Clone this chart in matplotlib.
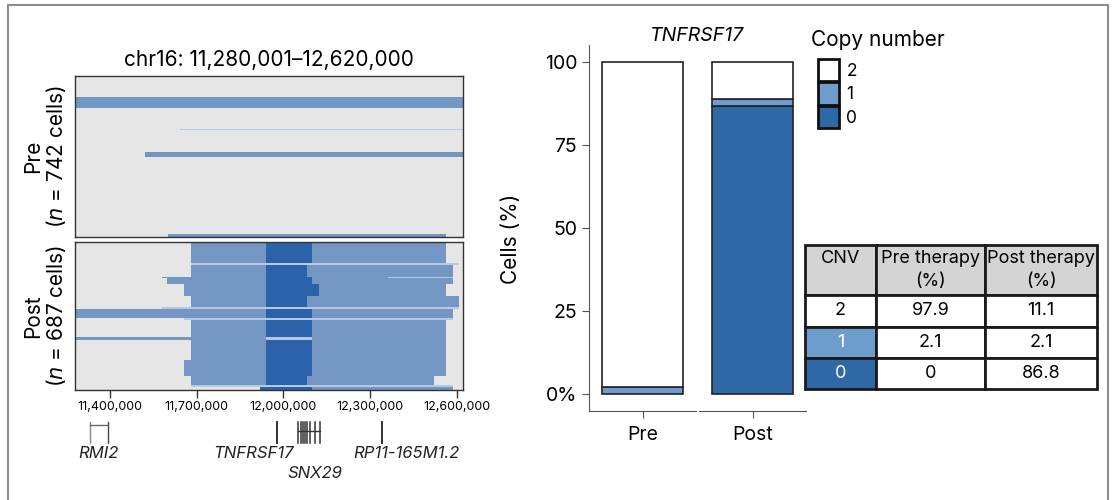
import matplotlib.pyplot as plt
from matplotlib.patches import Rectangle, Patch
from matplotlib.lines import Line2D

plt.rcParams['font.family'] = ['Inter', 'DejaVu Sans']

# genomic window shown in the heatmap
region_start = 11280001
region_end = 12620000
n_pre = 742
n_post = 687

# pre-therapy cells: (first cell, last cell, segment start, segment end, copy number)
pre_cell0 = [97, 245, 348, 728]
pre_cell1 = [148, 250, 373, 742]
pre_start = [11280001, 11642600, 11521800, 11601200]
pre_end = [12620000, 12620000, 12620000, 12561300]
pre_cn = [1, 'x', 1, 1]

# post-therapy cells, 'x' = very thin clusters drawn pale
post_cell0 = [0, 0, 0,
              6, 6, 6,
              96,
              106, 106, 106,
              163, 163, 163, 163,
              169, 169, 169,
              197, 197, 197,
              252, 252, 252,
              301,
              311, 311, 311,
              353,
              361, 361, 361,
              443, 443, 443,
              454, 454, 454,
              547, 547, 547,
              620, 620, 620,
              664,
              671, 671]
post_cell1 = [6, 6, 6,
              96, 96, 96,
              106,
              163, 163, 163,
              169, 169, 169, 169,
              197, 197, 197,
              252, 252, 252,
              301, 301, 301,
              311,
              353, 353, 353,
              361,
              443, 443, 443,
              454, 454, 454,
              547, 547, 547,
              620, 620, 620,
              664, 664, 664,
              671,
              687, 687]
post_start = [11563000, 11940000, 12143000,
              11680000, 11940000, 12100000,
              11680000,
              11680000, 11940000, 12080000,
              11580000, 11940000, 12100000, 12361000,
              11598000, 11940000, 12100000,
              11658000, 11940000, 12122000,
              11680000, 11940000, 12080000,
              11580000,
              11280001, 11940000, 12100000,
              11658000,
              11680000, 11940000, 12100000,
              11280001, 11940000, 12100000,
              11680000, 11940000, 12100000,
              11658000, 11940000, 12100000,
              11680000, 11940000, 12080000,
              11680000,
              11919000, 12100000]
post_end = [11940000, 12143000, 12561000,
            11940000, 12100000, 12561000,
            12606000,
            11940000, 12080000, 12584000,
            11940000, 12100000, 12361000, 12584000,
            11940000, 12100000, 12584000,
            11940000, 12122000, 12561000,
            11940000, 12080000, 12606000,
            12606000,
            11940000, 12100000, 12584000,
            12584000,
            11940000, 12100000, 12561000,
            11940000, 12100000, 12561000,
            11940000, 12100000, 12561000,
            11940000, 12100000, 12561000,
            11940000, 12080000, 12520000,
            12584000,
            12100000, 12584000]
post_cn = [1, 0, 1,
           1, 0, 1,
           'x',
           1, 0, 1,
           1, 0, 1, 'x',
           1, 0, 1,
           1, 0, 1,
           1, 0, 1,
           'x',
           1, 0, 1,
           'x',
           1, 0, 1,
           1, 'x', 1,
           1, 0, 1,
           1, 0, 1,
           1, 0, 1,
           'x',
           0, 1]

# gene annotation track
gene_names = ['RMI2', 'TNFRSF17', 'SNX29', 'RP11-165M1.2']
gene_start = [11331700, 11976500, 12051200, 12338600]
gene_end = [11393800, 11976500, 12126100, 12338600]
snx29_exons = [12051200, 12059500, 12066400, 12074300, 12080200,
               12091600, 12108900, 12126100]
axis_ticks = [11400000, 11700000, 12000000, 12300000, 12600000]

# copy-number fractions (%), in order CN 2, 1, 0
cn_levels = ['2', '1', '0']
pre_pct = [97.9, 2.1, 0]
post_pct = [11.1, 2.1, 86.8]

heat_colors = {0: '#2c62a9', 1: '#7396c2', 'x': '#b7c9e0'}
bar_colors = {'2': '#ffffff', '1': '#6d9ccd', '0': '#2f68a6'}
bg_grey = '#e6e6e6'

W, H = 1112, 500
fig = plt.figure(figsize=(W / 100, H / 100), dpi=100)


def px(x0, y0, x1, y1):
    return [x0 / W, 1 - y1 / H, (x1 - x0) / W, (y1 - y0) / H]


def draw_cells(ax, c0, c1, s, e, cn, n):
    ax.set_facecolor(bg_grey)
    for a, b, st, en, c in zip(c0, c1, s, e, cn):
        ax.add_patch(Rectangle((st, a), en - st, b - a, facecolor=heat_colors[c],
                               edgecolor='none', lw=0))
    ax.set_xlim(region_start, region_end)
    ax.set_ylim(n, 0)
    ax.set_yticks([])
    for sp in ax.spines.values():
        sp.set_linewidth(1.0)
        sp.set_color('#333333')


ax_pre = fig.add_axes(px(75, 76, 463, 237))
draw_cells(ax_pre, pre_cell0, pre_cell1, pre_start, pre_end, pre_cn, n_pre)
ax_pre.set_xticks([])
ax_pre.set_title('chr16: 11,280,001\u201312,620,000', fontsize=15, pad=7)
ax_pre.set_ylabel('Pre\n($\\it{n}$ = 742 cells)', fontsize=15, labelpad=5,
                  linespacing=1.05)

ax_post = fig.add_axes(px(75, 242, 463, 390))
draw_cells(ax_post, post_cell0, post_cell1, post_start, post_end, post_cn, n_post)
ax_post.set_xticks(axis_ticks)
ax_post.set_xticklabels([f'{t:,}' for t in axis_ticks], fontsize=9)
ax_post.tick_params(axis='x', length=6, width=1, pad=2, color='#333333')
ax_post.set_ylabel('Post\n($\\it{n}$ = 687 cells)', fontsize=15, labelpad=5,
                   linespacing=1.05)

# gene track under the heatmap
ax_gene = fig.add_axes(px(75, 412, 463, 500))
ax_gene.set_xlim(region_start, region_end)
ax_gene.set_ylim(0, 88)
ax_gene.axis('off')
# RMI2 drawn as a bracket
ax_gene.plot([gene_start[0], gene_start[0]], [57, 78], color='#888888', lw=1)
ax_gene.plot([gene_end[0], gene_end[0]], [57, 78], color='#444444', lw=1)
ax_gene.plot([gene_start[0], gene_end[0]], [75, 75], color='#666666', lw=1)
for g in [1, 3]:
    ax_gene.plot([gene_start[g], gene_start[g]], [57, 78], color='#333333', lw=1.4)
ax_gene.plot([gene_start[2], gene_end[2]], [69, 69], color='#333333', lw=1)
for x in snx29_exons:
    ax_gene.plot([x, x], [57, 78], color='#333333', lw=1.1)
label_x = [(gene_start[0] + gene_end[0]) / 2, 11897000,
           12109000, 12426000]
label_y = [47, 47, 27, 47]
for name, lx, ly in zip(gene_names, label_x, label_y):
    ax_gene.text(lx, ly, name, ha='center', va='center', fontsize=12,
                 style='italic', color='#222222')

# stacked bars, one facet per timepoint
bar_axes = [fig.add_axes(px(589, 45, 696, 411)), fig.add_axes(px(699, 45, 806, 411))]
for ax, pct, name in zip(bar_axes, [pre_pct, post_pct], ['Pre', 'Post']):
    bottom = 0
    for lev in ['0', '1', '2']:
        v = pct[cn_levels.index(lev)]
        if v > 0:
            ax.bar(0, v, bottom=bottom, width=0.76, color=bar_colors[lev],
                   edgecolor='#222222', linewidth=1.2)
        bottom += v
    ax.set_xlim(-0.5, 0.5)
    ax.set_ylim(-5, 105)
    ax.set_xticks([0])
    ax.set_xticklabels([name], fontsize=14)
    ax.tick_params(axis='x', length=5, color='#555555', pad=6)
    for s in ['top', 'right']:
        ax.spines[s].set_visible(False)
    ax.spines['bottom'].set_color('#555555')
    ax.spines['left'].set_color('#555555')

ax_l, ax_r = bar_axes
ax_l.set_yticks([0, 25, 50, 75, 100])
ax_l.set_yticklabels(['0%', '25', '50', '75', '100'], fontsize=14)
ax_l.tick_params(axis='y', length=5, color='#555555')
ax_l.set_ylabel('Cells (%)', fontsize=15)
ax_l.yaxis.set_label_coords(-0.64, 0.47)
ax_r.spines['left'].set_visible(False)
ax_r.set_yticks([])
fig.text(697 / W, 1 - 36 / H, 'TNFRSF17', ha='center', va='center',
         fontsize=14, style='italic')

# legend: title set apart so the keys sit slightly indented under it
fig.text(811 / W, 1 - 40 / H, 'Copy number', ha='left', va='center', fontsize=15)
handles = [Patch(facecolor=bar_colors[lev], edgecolor='#111111', linewidth=2, label=lev)
           for lev in cn_levels]
leg = fig.legend(handles=handles, loc='upper left',
                 bbox_to_anchor=(816 / W, 1 - 57 / H), frameon=False, fontsize=12.5,
                 handlelength=1.25, handleheight=1.6,
                 labelspacing=0.08, handletextpad=0.4,
                 borderaxespad=0, borderpad=0.1)

# summary table
ax_tab = fig.add_axes(px(805, 245, 1097, 389))
ax_tab.axis('off')
header = ['CNV\n', 'Pre therapy\n(%)', 'Post therapy\n(%)']
rows = [[lev, f'{p:g}', f'{q:g}'] for lev, p, q in zip(cn_levels, pre_pct, post_pct)]
tbl = ax_tab.table(cellText=rows, colLabels=header, cellLoc='center',
                   colWidths=[71, 109, 112], bbox=[0, 0, 1, 1])
tbl.auto_set_font_size(False)
tbl.set_fontsize(13)
for (r, c), cell in tbl.get_celld().items():
    cell.set_edgecolor('#1a1a1a')
    cell.set_linewidth(2)
    cell.set_height(50 if r == 0 else 31)
    cell.PAD = 0.02
    cell.get_text().set_linespacing(1.45)
    if r == 0:
        cell.set_facecolor('#d4d4d4')
    elif c == 0 and rows[r - 1][0] in ('1', '0'):
        cell.set_facecolor(bar_colors[rows[r - 1][0]])
        cell.get_text().set_color('white')

# outer frame
frame = dict(color='#8c8c8c', lw=1.5, transform=fig.transFigure)
fig.add_artist(Line2D([8 / W, 8 / W], [0, 1 - 5 / H], **frame))
fig.add_artist(Line2D([8 / W, 1108 / W], [1 - 5 / H, 1 - 5 / H], **frame))
fig.add_artist(Line2D([1108 / W, 1108 / W], [0, 1 - 5 / H], **frame))

fig.savefig('out.png', dpi=100)
